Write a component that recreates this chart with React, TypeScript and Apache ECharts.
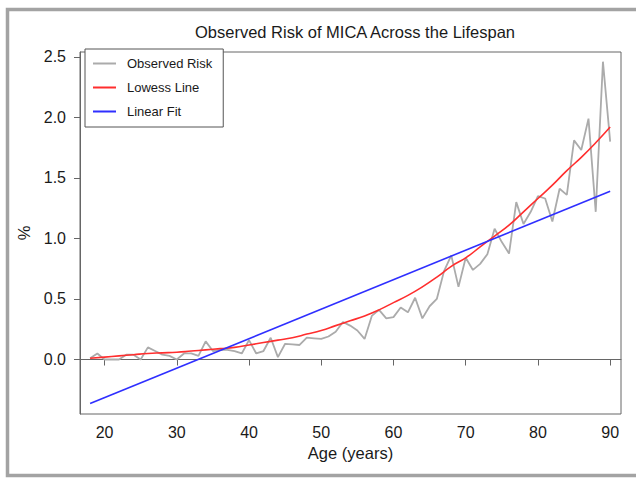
import React, { useEffect, useRef } from "react";
import * as echarts from "echarts";

const ages = [
  18, 19, 20, 21, 22, 23, 24, 25, 26, 27, 28, 29, 30, 31, 32, 33, 34, 35, 36, 37,
  38, 39, 40, 41, 42, 43, 44, 45, 46, 47, 48, 49, 50, 51, 52, 53, 54, 55, 56, 57,
  58, 59, 60, 61, 62, 63, 64, 65, 66, 67, 68, 69, 70, 71, 72, 73, 74, 75, 76, 77,
  78, 79, 80, 81, 82, 83, 84, 85, 86, 87, 88, 89, 90,
];
const observedRisk = [
  0.01, 0.05, 0.0, 0.0, 0.0, 0.04, 0.04, 0.0, 0.1, 0.07, 0.04, 0.03, 0.0, 0.05, 0.05, 0.03, 0.15, 0.07, 0.08, 0.08,
  0.07, 0.05, 0.16, 0.05, 0.07, 0.18, 0.02, 0.13, 0.125, 0.12, 0.18, 0.175, 0.17, 0.19, 0.23, 0.31, 0.28, 0.24, 0.17, 0.36,
  0.41, 0.34, 0.35, 0.43, 0.39, 0.51, 0.34, 0.44, 0.5, 0.73, 0.86, 0.6, 0.84, 0.74, 0.79, 0.87, 1.08, 0.97, 0.875, 1.3,
  1.12, 1.22, 1.35, 1.33, 1.14, 1.41, 1.36, 1.81, 1.73, 1.99, 1.22, 2.46, 1.8,
];
const lowessAges = [
  18, 20, 22, 24, 26, 28, 30, 32, 34, 36, 38, 40, 42, 44, 46, 48, 50, 52, 54,
  56, 58, 60, 62, 64, 66, 68, 70, 72, 74, 76, 78, 80, 82, 84, 86, 88, 90,
];
const lowessLine = [
  0.01, 0.02, 0.03, 0.04, 0.05, 0.055, 0.06, 0.07, 0.08, 0.09, 0.1, 0.12, 0.14, 0.16, 0.18, 0.21, 0.24, 0.28, 0.32,
  0.36, 0.41, 0.47, 0.53, 0.6, 0.68, 0.77, 0.84, 0.93, 1.02, 1.11, 1.22, 1.33, 1.44, 1.56, 1.67, 1.79, 1.92,
];
const linearAges = [18, 90];
const linearFit = [-0.363, 1.39];

const xTicks = [20, 30, 40, 50, 60, 70, 80, 90];
const yTicks = [0, 0.5, 1.0, 1.5, 2.0, 2.5];

const FONT = "'Liberation Sans', Arial, Helvetica, sans-serif";
// legend icon: a 23px line followed by empty space, so the label sits further right
const LEGEND_ICON = "path://M0,0H23V2H0Z M28.99,0H29V0.01H28.99Z";

export default function App() {
  const ref = useRef<HTMLDivElement>(null);
  useEffect(() => {
    document.body.style.margin = "0";
    const chart = echarts.init(ref.current!, null, { renderer: "svg" });
    const pairs = (xs: number[], ys: number[]) => xs.map((x, i) => [x, ys[i]]);
    chart.setOption({
      animation: false,
      backgroundColor: "#ffffff",
      textStyle: { fontFamily: FONT },
      title: {
        text: "Observed Risk of MICA Across the Lifespan",
        left: 350,
        textAlign: "center",
        top: 18,
        textStyle: { fontFamily: FONT, fontSize: 16.5, fontWeight: "normal", color: "#1a1a1a" },
      },
      graphic: [
        {
          type: "rect",
          shape: { x: 7.5, y: 9.5, width: 700, height: 466 },
          style: { fill: "none", stroke: "#a3a3a3", lineWidth: 3.5 },
          silent: true,
        },
      ],
      legend: {
        orient: "vertical",
        left: 85,
        top: 49,
        padding: [7, 11, 8, 8],
        itemGap: 9,
        itemWidth: 29,
        itemHeight: 2,
        icon: LEGEND_ICON,
        borderColor: "#555555",
        borderWidth: 1,
        backgroundColor: "#ffffff",
        textStyle: { fontFamily: FONT, fontSize: 13, color: "#1a1a1a", lineHeight: 15 },
        data: ["Observed Risk", "Lowess Line", "Linear Fit"],
      },
      grid: {
        left: 80,
        top: 52,
        right: 15,
        bottom: 65,
        show: true,
        borderColor: "#666666",
        borderWidth: 1,
        backgroundColor: "#ffffff",
      },
      xAxis: {
        type: "value",
        min: 16.6,
        max: 91.5,
        name: "Age (years)",
        nameLocation: "middle",
        nameGap: 30,
        nameTextStyle: { fontFamily: FONT, fontSize: 16.5, color: "#1a1a1a" },
        axisLine: { show: true, lineStyle: { color: "#666666", width: 1 } },
        axisTick: { show: true, length: 6, lineStyle: { color: "#666666" }, customValues: xTicks },
        axisLabel: { fontFamily: FONT, fontSize: 16, color: "#1a1a1a", margin: 10, customValues: xTicks },
        splitLine: { show: false },
      },
      yAxis: {
        type: "value",
        min: -0.45,
        max: 2.54,
        name: "%",
        nameLocation: "middle",
        nameRotate: 90,
        nameGap: 43,
        nameTextStyle: { fontFamily: FONT, fontSize: 16.5, color: "#1a1a1a" },
        axisLine: { show: true, lineStyle: { color: "#666666", width: 1 } },
        axisTick: { show: true, length: 6, lineStyle: { color: "#666666" }, customValues: yTicks },
        axisLabel: {
          fontFamily: FONT,
          fontSize: 16,
          color: "#1a1a1a",
          margin: 14,
          customValues: yTicks,
          formatter: (v: number) => v.toFixed(1),
        },
        splitLine: { show: false },
      },
      series: [
        {
          name: "Observed Risk",
          type: "line",
          data: pairs(ages, observedRisk),
          symbol: "none",
          color: "#ababab",
          lineStyle: { color: "#ababab", width: 1.8 },
          z: 2,
        },
        {
          name: "Lowess Line",
          type: "line",
          data: pairs(lowessAges, lowessLine),
          symbol: "none",
          smooth: true,
          color: "#ff2e2e",
          lineStyle: { color: "#ff2e2e", width: 1.6 },
          z: 3,
        },
        {
          name: "Linear Fit",
          type: "line",
          data: pairs(linearAges, linearFit),
          symbol: "none",
          color: "#2f2fff",
          lineStyle: { color: "#2f2fff", width: 1.6 },
          z: 4,
        },
      ],
    });
    return () => chart.dispose();
  }, []);
  return (
    <div
      ref={ref}
      style={{ position: "absolute", left: 0, top: 0, width: 636, height: 479 }}
    />
  );
}
